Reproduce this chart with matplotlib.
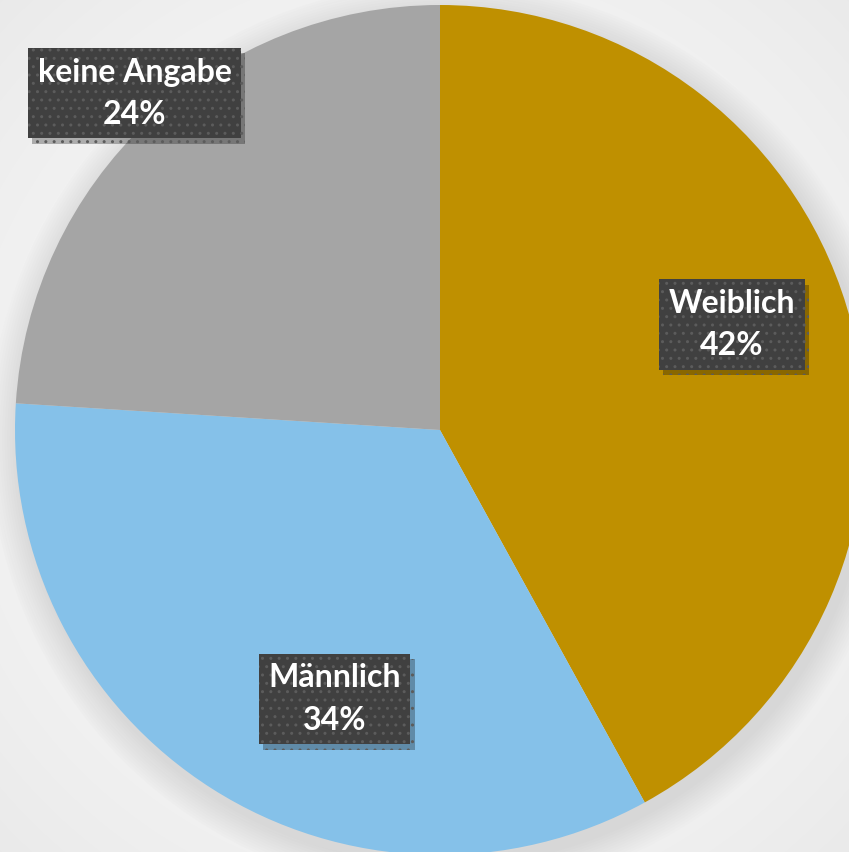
import numpy as np
import matplotlib
matplotlib.use('Agg')
import matplotlib.pyplot as plt
import matplotlib.patheffects as pe

# Daten
labels = ["Weiblich", "Männlich", "keine Angabe"]
anteile = [42, 34, 24]
farben = ["#BF9000", "#85C1E9", "#A5A5A5"]

# Label-Platzierung (Radius-Faktor, Winkelversatz in Grad)
label_r = [0.73, 0.68, 1.07]
label_dw = [5.5, 11.0, -1.0]

W, H, DPI = 849, 852, 100
fig = plt.figure(figsize=(W / DPI, H / DPI), dpi=DPI)

# Hintergrund mit leichtem radialen Verlauf
bg = fig.add_axes([0, 0, 1, 1])
yy, xx = np.mgrid[0:H, 0:W]
d = np.hypot(xx - W * 0.5, yy - H * 0.5) / (0.72 * max(W, H))
grad = 0.975 - 0.06 * d ** 2
bg.imshow(np.dstack([grad] * 3), extent=[0, 1, 0, 1], aspect='auto')
bg.axis('off')

ax = fig.add_axes([0, 0, 1, 1])
ax.patch.set_alpha(0)
R = 425.0
cx, cy = 440.0, 430.0

# weicher Schatten unter dem Kreis
for k in range(12):
    ax.add_patch(plt.Circle((0.012, -0.02), 1.0 + 0.006 * (12 - k),
                            color='#9a9a9a', alpha=0.025, lw=0, zorder=0))

wedges, _ = ax.pie(anteile, colors=farben, startangle=90, counterclock=False,
                   radius=1.0, wedgeprops=dict(linewidth=0))
for w in wedges:
    w.set_zorder(2)

ax.set_xlim(-cx / R, (W - cx) / R)
ax.set_ylim(-(H - cy) / R, cy / R)
ax.set_aspect('equal')
ax.axis('off')

# Beschriftungen
start = 90.0
for lab, val, rf, dw in zip(labels, anteile, label_r, label_dw):
    span = val / sum(anteile) * 360.0
    mid = np.deg2rad(start - span / 2 + dw)
    start -= span
    x, y = rf * np.cos(mid), rf * np.sin(mid)
    t = ax.text(x, y, f"{lab}\n{val}%", ha='center', va='center', color='white',
                fontsize=23, fontweight='bold', family='Lato', linespacing=1.55,
                zorder=5,
                bbox=dict(boxstyle='square,pad=0.3', facecolor='#404040',
                          edgecolor='#5c5c5c', linewidth=0, hatch='..'))
    t.get_bbox_patch().set_path_effects([
        pe.SimplePatchShadow(offset=(3, -4), shadow_rgbFace='#000000', alpha=0.28),
        pe.Normal()])

fig.savefig('out.png', dpi=DPI)
